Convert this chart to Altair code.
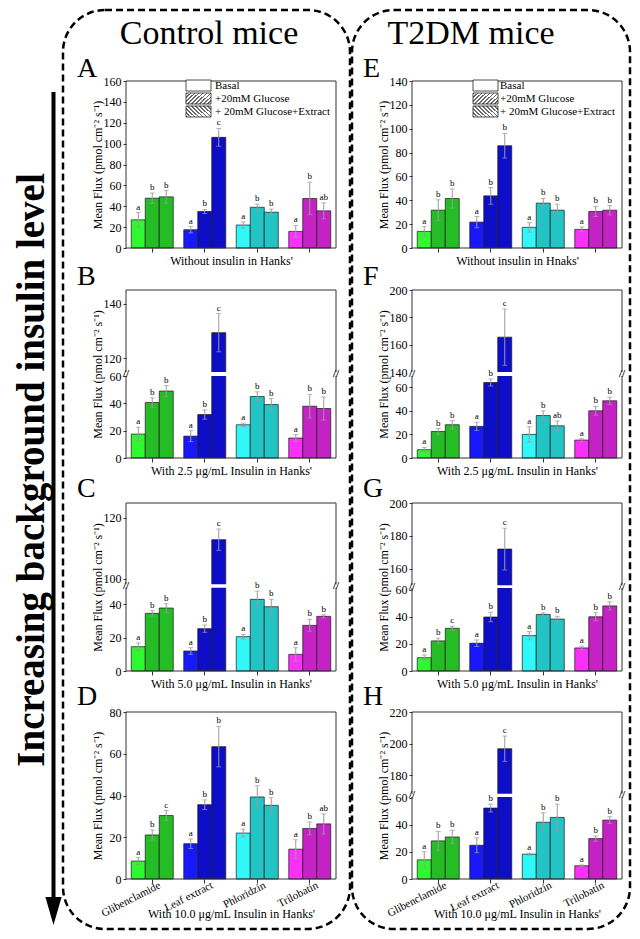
import altair as alt
import pandas as pd

compounds = ["Glibenclamide", "Leaf extract", "Phloridzin", "Trilobatin"]
treatments = ["Basal", "+20mM Glucose", "+ 20mM Glucose+Extract"]

# Control mice
A_mean = [27.0, 47.7, 49.0, 17.5, 35.0, 106.0, 22.0, 39.0, 34.3, 15.9, 47.4, 35.6]
A_err = [7.0, 5.0, 6.0, 3.0, 2.0, 8.5, 3.0, 3.0, 3.0, 5.7, 15.6, 7.7]
A_sig = ["a", "b", "b", "a", "b", "c", "a", "b", "b", "a", "b", "ab"]

B_mean = [17.5, 40.6, 49.0, 16.0, 31.8, 129.4, 24.3, 45.0, 39.1, 14.6, 37.9, 36.2]
B_err = [5.0, 3.4, 4.0, 4.0, 3.4, 7.0, 1.2, 3.4, 4.4, 2.5, 8.7, 8.5]
B_sig = ["a", "b", "b", "a", "b", "c", "a", "b", "b", "a", "b", "b"]

C_mean = [14.6, 34.6, 37.8, 12.0, 25.4, 112.8, 20.6, 43.0, 38.6, 10.0, 27.4, 32.8]
C_err = [2.2, 1.6, 2.6, 2.0, 2.2, 3.5, 1.4, 5.0, 4.4, 4.0, 3.6, 1.0]
C_sig = ["a", "b", "b", "a", "b", "c", "a", "b", "b", "a", "b", "b"]

D_mean = [8.6, 21.1, 30.4, 16.9, 35.6, 63.4, 22.0, 39.3, 35.3, 14.3, 24.2, 26.4]
D_err = [1.6, 2.4, 2.4, 2.3, 2.3, 9.7, 1.9, 5.4, 3.7, 4.5, 3.1, 4.8]
D_sig = ["a", "b", "c", "a", "b", "b", "a", "b", "b", "a", "b", "ab"]

# T2DM mice
E_mean = [13.9, 31.7, 41.5, 21.7, 43.7, 85.7, 17.3, 37.6, 31.7, 15.6, 30.6, 31.7]
E_err = [4.0, 8.7, 8.0, 4.7, 7.0, 10.3, 4.0, 3.9, 5.0, 2.0, 4.2, 3.9]
E_sig = ["a", "b", "b", "a", "b", "b", "a", "b", "b", "a", "b", "b"]

F_mean = [7.0, 22.5, 28.2, 26.8, 64.0, 165.5, 20.0, 36.0, 27.3, 15.2, 40.0, 48.5]
F_err = [2.0, 2.5, 3.5, 3.5, 3.0, 20.6, 6.5, 4.0, 4.0, 1.2, 3.7, 3.0]
F_sig = ["a", "b", "b", "a", "b", "c", "a", "b", "ab", "a", "b", "b"]

G_mean = [9.8, 22.2, 31.5, 20.5, 39.8, 172.0, 26.1, 41.7, 38.3, 17.0, 40.0, 48.0]
G_err = [2.0, 2.0, 1.5, 2.4, 3.5, 12.7, 3.0, 1.2, 2.0, 1.3, 3.0, 3.0]
G_sig = ["a", "b", "c", "a", "b", "c", "a", "b", "b", "a", "b", "b"]

H_mean = [14.2, 28.2, 31.1, 25.0, 52.5, 196.8, 18.4, 42.0, 45.6, 9.8, 29.9, 43.6]
H_err = [6.0, 7.0, 5.0, 5.5, 2.9, 8.0, 0.8, 7.0, 9.8, 0.6, 2.0, 2.5]
H_sig = ["a", "b", "b", "a", "b", "c", "a", "b", "b", "a", "b", "b"]

y_title = "Mean Flux (pmol cm\u207b\u00b2 s\u207b\u00b9)"

FONT = "Liberation Serif"
W, H = 624, 923
COLS = {"L": (118, 328), "R": (404, 614)}

fill_domain = [f"{c}|{t}" for c in compounds for t in treatments]
pal = {
    "Glibenclamide": ("#30f830", "#25bd25"),
    "Leaf extract": ("#1818ff", "#0e0ec8"),
    "Phloridzin": ("#30f8f8", "#22c4c4"),
    "Trilobatin": ("#f830f8", "#c422c4"),
}
fill_range = [pal[c][0 if t == treatments[0] else 1] for c in compounds for t in treatments]

dummy = pd.DataFrame({"d": [0]})


def table(means, errs, sigs):
    rows = []
    k = 0
    for c in compounds:
        for t in treatments:
            rows.append({"compound": c, "treatment": t, "mean": means[k],
                         "lo": means[k] - errs[k], "hi": means[k] + errs[k],
                         "sig": sigs[k], "key": f"{c}|{t}"})
            k += 1
    return pd.DataFrame(rows)


def hatch(back):
    n = 9
    stops = []
    for i in range(n):
        a, b, c = i / n, (i + 0.4) / n, (i + 1) / n
        stops += [{"color": "#6a6a6a", "offset": a}, {"color": "#6a6a6a", "offset": b},
                  {"color": "white", "offset": b}, {"color": "white", "offset": c}]
    if back:
        return {"gradient": "linear", "x1": 0, "y1": 1, "x2": 1.2, "y2": 0.45, "stops": stops}
    return {"gradient": "linear", "x1": 0, "y1": 0, "x2": 1.2, "y2": 0.55, "stops": stops}


def legend_layers(bx, tx):
    out = []
    fills = ["white", hatch(False), hatch(True)]
    ys = [(72, 83), (85, 96), (98, 109)]
    bases = [81, 94, 106.5]
    for (y0, y1), f, t, b in zip(ys, fills, treatments, bases):
        out.append(alt.Chart(dummy).mark_rect(fill=f, stroke="#222", strokeWidth=0.8).encode(
            x=alt.value(bx), x2=alt.value(bx + 25), y=alt.value(y0), y2=alt.value(y1)))
        out.append(alt.Chart(dummy).mark_text(font=FONT, fontSize=11, align="left", baseline="alphabetic").encode(
            x=alt.value(tx), y=alt.value(b), text=alt.value(t)))
    return out


def panel(means, errs, sigs, col, ydom, yrng, yticks, xtitle, labels=False, legend=None):
    df = table(means, errs, sigs)
    x0, x1 = COLS[col]
    if labels:
        xaxis = alt.Axis(orient="bottom", offset=yrng[0] - H, labels=True, labelAngle=333,
                         labelAlign="right", labelBaseline="top", labelOffset=5, labelFontSize=11,
                         labelPadding=-4, ticks=True, tickSize=4, domain=False, grid=False,
                         title=xtitle, titleY=34, titleBaseline="middle")
    else:
        xaxis = alt.Axis(orient="bottom", offset=yrng[0] - H, labels=False, ticks=True, tickSize=4,
                         domain=False, grid=False, title=xtitle, titleY=12, titleBaseline="middle")
    yaxis = alt.Axis(orient="left", offset=-x0, values=yticks, tickSize=3, labelPadding=2,
                     domain=False, grid=False, labelOverlap=False, labelFlush=False,
                     title=y_title, titleX=-29, titleBaseline="middle")
    xs = alt.Scale(domain=compounds, range=[x0, x1], paddingInner=0.2, paddingOuter=0.1)
    ys = alt.Scale(domain=ydom, range=yrng, nice=False, zero=False)
    osc = alt.Scale(domain=treatments, paddingInner=0, paddingOuter=0)
    X = alt.X("compound:N", scale=xs, axis=xaxis, sort=compounds)
    XO = alt.XOffset("treatment:N", scale=osc, sort=treatments)

    def Y(f):
        return alt.Y(f"{f}:Q", scale=ys, axis=yaxis)

    base = alt.Chart(df)
    bars = base.mark_bar(stroke="#1a1a1a", strokeWidth=0.7).encode(
        x=X, xOffset=XO, y=Y("mean"),
        fill=alt.Fill("key:N", scale=alt.Scale(domain=fill_domain, range=fill_range), legend=None))
    ebar = base.mark_rule(color="#9a9a9a", strokeWidth=1).encode(x=X, xOffset=XO, y=Y("lo"), y2="hi:Q")
    cap_hi = base.mark_tick(color="#9a9a9a", thickness=1, size=5).encode(x=X, xOffset=XO, y=Y("hi"))
    cap_lo = base.mark_tick(color="#9a9a9a", thickness=1, size=5).encode(x=X, xOffset=XO, y=Y("lo"))
    frame = alt.Chart(dummy).mark_rect(fill="transparent", stroke="#333", strokeWidth=1).encode(
        x=alt.value(x0), x2=alt.value(x1), y=alt.datum(ydom[-1]), y2=alt.datum(ydom[0]))
    layers = [bars, ebar, cap_hi, cap_lo, frame]
    if len(ydom) == 4:
        band = alt.Chart(dummy).mark_rect(fill="white").encode(
            x=alt.value(x0 - 4), x2=alt.value(x1 + 4), y=alt.datum(ydom[1]), y2=alt.datum(ydom[2]))
        mid = (ydom[1] + ydom[2]) / 2
        layers.append(band)
        for xx in (x0, x1):
            layers.append(alt.Chart(dummy).mark_text(text="//", font=FONT, fontSize=11, fontWeight="bold").encode(
                x=alt.value(xx), y=alt.datum(mid)))
    letters = base.mark_text(font=FONT, fontSize=9, baseline="bottom", dy=-1).encode(
        x=X, xOffset=XO, y=Y("hi"), text="sig:N")
    layers.append(letters)
    if legend:
        layers += legend_layers(*legend)
    return alt.layer(*layers)


pA = panel(A_mean, A_err, A_sig, "L", [0, 160], [240, 73], list(range(0, 161, 20)),
           "Without insulin in Hanks'", legend=(178, 207))
pE = panel(E_mean, E_err, E_sig, "R", [0, 140], [240, 73], list(range(0, 141, 20)),
           "Without insulin in Hnaks'", legend=(465, 492))
pB = panel(B_mean, B_err, B_sig, "L", [0, 60, 115, 145], [450, 368, 364, 282], [0, 20, 40, 60, 120, 140],
           "With 2.5 \u03bcg/mL Insulin in Hanks'")
pF = panel(F_mean, F_err, F_sig, "R", [0, 69.5, 140, 200], [450, 368, 364, 282], [0, 20, 40, 60, 140, 160, 180, 200],
           "With 2.5 \u03bcg/mL Insulin in Hanks'")
pC = panel(C_mean, C_err, C_sig, "L", [0, 50, 98.2, 124.8], [663, 579.7, 576.3, 495], [0, 20, 40, 100, 120],
           "With 5.0 \u03bcg/mL Insulin in Hanks'")
pG = panel(G_mean, G_err, G_sig, "R", [0, 61.2, 150, 200], [663, 580, 577.3, 495], [0, 20, 40, 60, 160, 180, 200],
           "With 5.0 \u03bcg/mL Insulin in Hanks'")
pD = panel(D_mean, D_err, D_sig, "L", [0, 80], [871, 704], [0, 20, 40, 60, 80],
           "With 10.0 \u03bcg/mL Insulin in Hanks'", labels=True)
pH = panel(H_mean, H_err, H_sig, "R", [0, 60.7, 168.4, 220], [871, 789, 785.7, 704], [0, 20, 40, 60, 180, 200, 220],
           "With 10.0 \u03bcg/mL Insulin in Hanks'", labels=True)

# decorations
deco = []
for bx0, bx1 in ((55, 342), (344, 622)):
    deco.append(alt.Chart(dummy).mark_rect(fill="transparent", stroke="black", strokeWidth=2.5,
                                           strokeDash=[7, 4], cornerRadius=42).encode(
        x=alt.value(bx0), x2=alt.value(bx1), y=alt.value(2), y2=alt.value(921)))
for txt, cx in (("Control mice", 201), ("T2DM mice", 463)):
    deco.append(alt.Chart(dummy).mark_text(font=FONT, fontSize=34, align="center", baseline="alphabetic").encode(
        x=alt.value(cx), y=alt.value(36), text=alt.value(txt)))
for txt, lx, ly in (("A", 69, 69), ("E", 355, 69), ("B", 69, 277), ("F", 355, 277),
                    ("C", 69, 489), ("G", 355, 489), ("D", 69, 697), ("H", 355, 697)):
    deco.append(alt.Chart(dummy).mark_text(font=FONT, fontSize=28, align="left", baseline="alphabetic").encode(
        x=alt.value(lx), y=alt.value(ly), text=alt.value(txt)))
deco.append(alt.Chart(dummy).mark_text(font=FONT, fontSize=39, fontWeight="bold", angle=270,
                                       align="center", baseline="alphabetic").encode(
    x=alt.value(35.5), y=alt.value(462), text=alt.value("Increasing background insulin level")))
deco.append(alt.Chart(dummy).mark_rule(color="black", strokeWidth=4).encode(
    x=alt.value(45.5), y=alt.value(84), y2=alt.value(892)))
deco.append(alt.Chart(dummy).mark_point(shape="M-0.58,-1L0.58,-1L0,1Z", size=784, filled=True,
                                        color="black", opacity=1).encode(
    x=alt.value(45.5), y=alt.value(903)))

chart = alt.layer(pA, pE, pB, pF, pC, pG, pD, pH, *deco).resolve_scale(
    x="independent", y="independent", xOffset="independent"
).resolve_axis(x="independent", y="independent").properties(
    width=W, height=H, padding=0, autosize=alt.AutoSizeParams(type="none")
).configure_view(stroke="transparent").configure_axis(
    labelFont=FONT, titleFont=FONT, labelFontSize=12, titleFontSize=12, titleFontWeight="normal",
    labelColor="black", titleColor="black", tickColor="#333"
)

chart.save("out.html", embed_options={"renderer": "svg", "actions": False})
